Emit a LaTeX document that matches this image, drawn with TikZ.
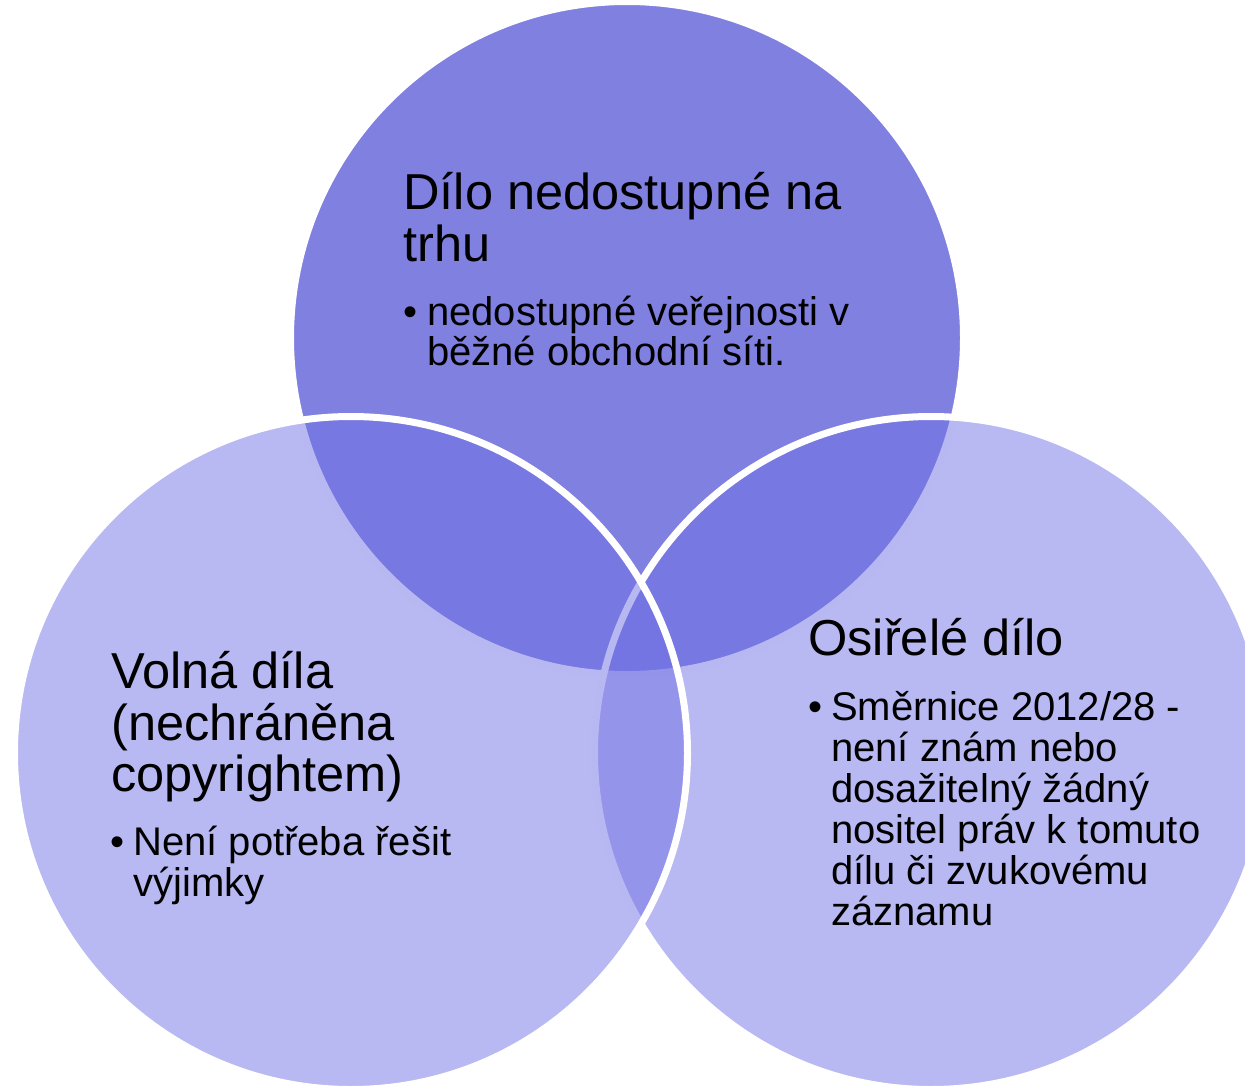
\documentclass[tikz,border=0pt]{standalone}
\usepackage{fontspec}
\setmainfont{Liberation Sans}
\definecolor{topfill}{HTML}{8080E0}
\definecolor{sidefill}{HTML}{7171E5}
\begin{document}
\begin{tikzpicture}[x=0.75pt,y=-0.75pt,
  ring/.style={draw=white,line width=5.25pt},
  title/.style={anchor=base west,inner sep=0pt,font=\fontsize{37.9}{39}\selectfont,text=black},
  item/.style={anchor=base west,inner sep=0pt,font=\fontsize{30}{31}\selectfont,text=black}]
\useasboundingbox (0,0) rectangle (1245,1085);
\clip (0,0) rectangle (1245,1085);
% circles: top, right, left
\path[ring,fill=topfill] (627,338) circle[radius=252.375pt];
\path[ring,fill=sidefill,fill opacity=0.5] (931,753) circle[radius=252.375pt];
\path[ring,fill=sidefill,fill opacity=0.5] (351,753) circle[radius=252.375pt];
% top circle text
\node[title] (t1) at (403,209) {Dílo nedostupné na};
\node[title] (t2) at (403,261) {trhu};
\node[item] (tb) at (403,325) {•};
\node[item] (tl1) at (427,325) {nedostupné veřejnosti v};
\node[item] (tl2) at (427,365) {běžné obchodní síti.};
% left circle text
\node[title] (l1) at (111,688) {Volná díla};
\node[title] (l2) at (111,740) {(nechráněna};
\node[title] (l3) at (111,791) {copyrightem)};
\node[item] (lb) at (110,855) {•};
\node[item] (ll1) at (133,855) {Není potřeba řešit};
\node[item] (ll2) at (133,896) {výjimky};
% right circle text
\node[title] (r1) at (808,655) {Osiřelé dílo};
\node[item] (rb) at (808,720) {•};
\node[item] (rl1) at (831,720) {Směrnice 2012/28 -};
\node[item] (rl2) at (831,761) {není znám nebo};
\node[item] (rl3) at (831,802) {dosažitelný žádný};
\node[item] (rl4) at (831,843) {nositel práv k tomuto};
\node[item] (rl5) at (831,884) {dílu či zvukovému};
\node[item] (rl6) at (831,925) {záznamu};
\end{tikzpicture}
\end{document}
